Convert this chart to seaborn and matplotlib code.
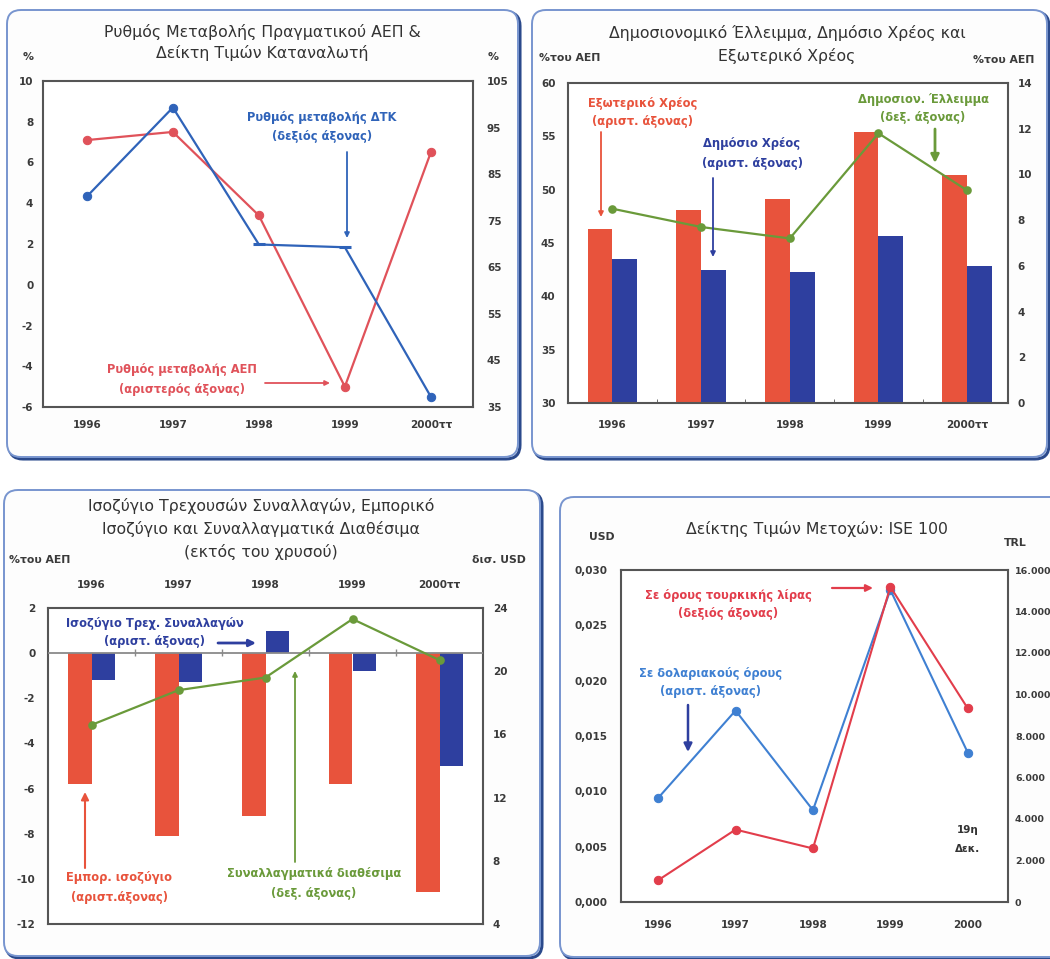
import matplotlib
matplotlib.use("Agg")
import matplotlib.pyplot as plt
import matplotlib.transforms as mtransforms
from matplotlib.patches import FancyBboxPatch, FancyArrowPatch
from matplotlib.ticker import FuncFormatter
import seaborn as sns
import pandas as pd
import numpy as np

# ---- data ----
years = ["1996", "1997", "1998", "1999", "2000ττ"]
years_ise = ["1996", "1997", "1998", "1999", "2000"]

# GDP growth (left, %) and CPI change (right, %)
gdp_growth = [7.1, 7.5, 3.4, -5.0, 6.5]
cpi_change = [80.2, 99.3, 69.9, 69.3, 37.2]

# external debt, public debt (left, % GDP), budget deficit (right, % GDP)
ext_debt = [46.3, 48.1, 49.1, 55.4, 51.4]
pub_debt = [43.5, 42.5, 42.3, 45.7, 42.8]
budget_deficit = [8.5, 7.7, 7.2, 11.8, 9.3]

# trade balance, current account (left, % GDP), reserves (right, bn USD)
trade_bal = [-5.8, -8.1, -7.2, -5.8, -10.6]
current_acc = [-1.2, -1.3, 1.0, -0.8, -5.0]
reserves = [16.6, 18.8, 19.6, 23.3, 20.7]

# ISE 100 in USD (left) and TRL (right)
ise_usd = [0.0094, 0.0173, 0.0083, 0.0282, 0.0135]
ise_trl = [1050, 3490, 2580, 15190, 9330]

RED1, BLUE1 = "#e0525a", "#2f63b9"
RED2, BLUE2, GREEN = "#e8533c", "#2e3f9f", "#6a9a3a"
RED4, BLUE4 = "#e23d4b", "#3f80d2"
TXT = "#3a3a3a"
FRAME = "#555555"
TITLE_SIZE = 11.3
NOTE_SIZE = 8.3
TICK_SIZE = 7.5

sns.set_style("white")
plt.rcParams["font.family"] = ["DejaVu Sans"]
plt.rcParams["axes.unicode_minus"] = False

W, H = 1050, 959
fig = plt.figure(figsize=(W / 100, H / 100), dpi=100)
fig.patch.set_facecolor("white")
PIX = mtransforms.IdentityTransform()


def box(l, t, r, b):
    return [l / W, 1 - b / H, (r - l) / W, (b - t) / H]


def ftext(x, y, s, **kw):
    kw.setdefault("ha", "center")
    kw.setdefault("va", "center")
    fig.text(x / W, 1 - y / H, s, **kw)


def title(x, ys, lines):
    for y, s in zip(ys, lines):
        ftext(x, y, s, fontsize=TITLE_SIZE, color="#333333")


def unit(x, y, s, **kw):
    ftext(x, y, s, fontsize=7.8, fontweight="bold", color=TXT, **kw)


def label(x, ys, lines, color, size=NOTE_SIZE):
    for y, s in zip(ys, lines):
        ftext(x, y, s, color=color, fontsize=size, fontweight="bold")


def arrow(x0, y0, x1, y1, color, lw=1.3, head=7):
    a = FancyArrowPatch((x0, H - y0), (x1, H - y1), transform=PIX,
                        arrowstyle="-|>", mutation_scale=head, color=color,
                        lw=lw, shrinkA=0, shrinkB=0, zorder=10)
    fig.add_artist(a)


def panel(l, t, r, b):
    sh = FancyBboxPatch((l + 2, H - b - 2), r - l, b - t, transform=PIX,
                        boxstyle="round,pad=0,rounding_size=14",
                        fc="none", ec="#2b4a8c", lw=2.2, zorder=-6)
    fg = FancyBboxPatch((l, H - b), r - l, b - t, transform=PIX,
                        boxstyle="round,pad=0,rounding_size=14",
                        fc="#fdfdfd", ec="#7895cf", lw=1.4, zorder=-5)
    fig.add_artist(sh)
    fig.add_artist(fg)


def style(ax, axr):
    for s in ax.spines.values():
        s.set_color(FRAME)
        s.set_linewidth(1.5)
    for s in axr.spines.values():
        s.set_visible(False)
    for a in (ax, axr):
        a.set(xlabel="", ylabel="")
        a.grid(False)
        a.tick_params(length=0, labelsize=TICK_SIZE, labelcolor=TXT)
        for t in a.xaxis.get_major_ticks() + a.yaxis.get_major_ticks():
            t.label1.set_fontweight("bold")
            t.label2.set_fontweight("bold")
    ax.set_facecolor("white")
    axr.patch.set_visible(False)


panel(7, 10, 518, 457)
panel(532, 10, 1047, 457)
panel(4, 490, 540, 956)
panel(560, 497, 1070, 957)

# ---- panel 1 ----
x = np.arange(len(years))
ax1 = fig.add_axes(box(43, 81, 473, 407))
ax1r = ax1.twinx()
sns.lineplot(x=x, y=gdp_growth, ax=ax1, color=RED1, lw=1.6, marker="o",
             ms=6, mec=RED1)
sns.lineplot(x=x, y=cpi_change, ax=ax1r, color=BLUE1, lw=1.6, marker="o",
             ms=6, mec=BLUE1, markevery=[0, 1, 4])
sns.scatterplot(x=x[2:4], y=cpi_change[2:4], ax=ax1r, marker="_", s=70,
                color=BLUE1, linewidth=2.2)
ax1.set_xlim(-0.51, 4.49)
ax1.set_ylim(-6, 10)
ax1.set_yticks(range(-6, 11, 2))
ax1r.set_ylim(35, 105)
ax1r.set_yticks(range(35, 106, 10))
ax1.set_xticks(x)
ax1.set_xticklabels(years)
style(ax1, ax1r)
ax1.tick_params(axis="x", pad=9)
ax1.tick_params(axis="y", pad=7)
ax1r.tick_params(axis="y", pad=10)

title(262, [32, 53], ["Ρυθμός Μεταβολής Πραγματικού ΑΕΠ &",
                      "Δείκτη Τιμών Καταναλωτή"])
unit(28, 57, "%")
unit(493, 57, "%")
label(322, [118, 137], ["Ρυθμός μεταβολής ΔΤΚ", "(δεξιός άξονας)"], BLUE1)
arrow(347, 152, 347, 238, BLUE1)
label(182, [370, 389], ["Ρυθμός μεταβολής ΑΕΠ", "(αριστερός άξονας)"], RED1)
arrow(265, 383, 330, 383, RED1)

# ---- panel 2 ----
df2 = pd.DataFrame({
    "year": years * 2,
    "value": ext_debt + pub_debt,
    "series": ["Εξωτερικό Χρέος"] * 5 + ["Δημόσιο Χρέος"] * 5,
})
ax2 = fig.add_axes(box(568, 83, 1008, 403))
ax2r = ax2.twinx()
sns.barplot(data=df2, x="year", y="value", hue="series", order=years,
            hue_order=["Εξωτερικό Χρέος", "Δημόσιο Χρέος"],
            palette=[RED2, BLUE2], width=0.56, saturation=1, linewidth=0,
            legend=False, ax=ax2)
sns.pointplot(x=years, y=budget_deficit, order=years, ax=ax2r, color=GREEN,
              markers="o", errorbar=None, markersize=5, linewidth=1.6)
ax2.set_xlim(-0.5, 4.46)
ax2r.set_xlim(-0.5, 4.46)
ax2.set_ylim(30, 60)
ax2.set_yticks(range(30, 61, 5))
ax2r.set_ylim(0, 14)
ax2r.set_yticks(range(0, 15, 2))
style(ax2, ax2r)
ax2.set_xticks(np.arange(4) + 0.5, minor=True)
ax2.tick_params(axis="x", which="minor", length=3, direction="in",
                color=FRAME, bottom=True)
ax2.tick_params(axis="x", pad=12)
ax2.tick_params(axis="y", pad=9)
ax2r.tick_params(axis="y", pad=7)

title(787, [33, 56], ["Δημοσιονομικό Έλλειμμα, Δημόσιο Χρέος και",
                      "Εξωτερικό Χρέος"])
unit(570, 58, "%του ΑΕΠ")
unit(973, 60, "%του ΑΕΠ", ha="left")
label(643, [103, 121], ["Εξωτερικό Χρέος", "(αριστ. άξονας)"], RED2)
arrow(601, 132, 601, 217, RED2)
label(752, [143, 163], ["Δημόσιο Χρέος", "(αριστ. άξονας)"], BLUE2)
arrow(713, 178, 713, 257, BLUE2)
label(923, [100, 118], ["Δημοσιον. Έλλειμμα", "(δεξ. άξονας)"], GREEN)
arrow(935, 129, 935, 163, GREEN, lw=2, head=12)

# ---- panel 3 ----
df3 = pd.DataFrame({
    "year": years * 2,
    "value": trade_bal + current_acc,
    "series": ["Εμπορ. ισοζύγιο"] * 5 + ["Ισοζύγιο Τρεχ. Συναλλαγών"] * 5,
})
ax3 = fig.add_axes(box(48, 608, 483, 924))
ax3r = ax3.twinx()
sns.barplot(data=df3, x="year", y="value", hue="series", order=years,
            hue_order=["Εμπορ. ισοζύγιο", "Ισοζύγιο Τρεχ. Συναλλαγών"],
            palette=[RED2, BLUE2], width=0.55, saturation=1, linewidth=0,
            legend=False, ax=ax3)
sns.pointplot(x=years, y=reserves, order=years, ax=ax3r, color=GREEN,
              markers="o", errorbar=None, markersize=5, linewidth=1.6)
ax3.axhline(0, color="#8a8a8a", lw=1.3, zorder=3)
ax3.vlines(np.arange(4) + 0.5, -0.12, 0.18, color="#8a8a8a", lw=1, zorder=3)
ax3.set_xlim(-0.5, 4.5)
ax3r.set_xlim(-0.5, 4.5)
ax3.set_ylim(-12, 2)
ax3.set_yticks(range(-12, 3, 2))
ax3r.set_ylim(4, 24)
ax3r.set_yticks(range(4, 25, 4))
ax3.tick_params(axis="x", top=False, bottom=False, labeltop=True,
                labelbottom=False, pad=13)
style(ax3, ax3r)
ax3.tick_params(axis="y", pad=9)
ax3r.tick_params(axis="y", pad=7)

title(261, [506, 529, 552], ["Ισοζύγιο Τρεχουσών Συναλλαγών, Εμπορικό",
                             "Ισοζύγιο και Συναλλαγματικά Διαθέσιμα",
                             "(εκτός του χρυσού)"])
unit(40, 560, "%του ΑΕΠ")
unit(499, 560, "δισ. USD")
label(155, [623, 642], ["Ισοζύγιο Τρεχ. Συναλλαγών", "(αριστ. άξονας)"], BLUE2)
arrow(218, 643, 256, 643, BLUE2, lw=2, head=10)
label(119, [878, 897], ["Εμπορ. ισοζύγιο", "(αριστ.άξονας)"], RED2)
arrow(85, 868, 85, 792, RED2, lw=1.5, head=11)
label(314, [873, 893], ["Συναλλαγματικά διαθέσιμα", "(δεξ. άξονας)"], GREEN)
arrow(295, 862, 295, 671, GREEN, lw=1.3)

# ---- panel 4 ----
ax4 = fig.add_axes(box(621, 570, 1008, 902))
ax4r = ax4.twinx()
sns.lineplot(x=x, y=ise_usd, ax=ax4, color=BLUE4, lw=1.5, marker="o",
             ms=6, mec=BLUE4)
sns.lineplot(x=x, y=ise_trl, ax=ax4r, color=RED4, lw=1.5, marker="o",
             ms=6, mec=RED4)
ax4.set_xlim(-0.48, 4.52)
ax4.set_ylim(0, 0.030)
ax4.set_yticks(np.arange(0, 0.0301, 0.005))
ax4.yaxis.set_major_formatter(FuncFormatter(lambda v, p: f"{v:.3f}".replace(".", ",")))
ax4r.set_ylim(0, 16000)
ax4r.set_yticks(range(0, 16001, 2000))
ax4r.yaxis.set_major_formatter(FuncFormatter(lambda v, p: f"{int(v):,}".replace(",", ".")))
ax4.set_xticks(x)
ax4.set_xticklabels(years_ise)
style(ax4, ax4r)
ax4.tick_params(axis="x", pad=13)
ax4.tick_params(axis="y", pad=10)
ax4r.tick_params(axis="y", pad=5, labelsize=6.8)

title(817, [529], ["Δείκτης Τιμών Μετοχών: ISE 100"])
unit(602, 537, "USD")
unit(1015, 543, "TRL")
label(728, [595, 613], ["Σε όρους τουρκικής λίρας", "(δεξιός άξονας)"], RED4)
arrow(832, 588, 873, 588, RED4, lw=1.6, head=10)
label(711, [673, 692], ["Σε δολαριακούς όρους", "(αριστ. άξονας)"], BLUE4)
arrow(688, 705, 688, 752, BLUE2, lw=1.8, head=12)
label(968, [830, 849], ["19η", "Δεκ."], "#333", size=7.5)

fig.savefig("out.png", dpi=100)
